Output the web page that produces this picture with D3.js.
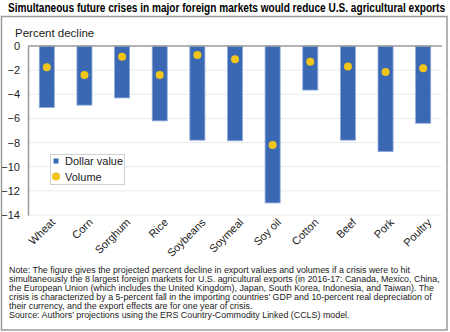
<!DOCTYPE html>
<meta charset="utf-8">
<style>
body { margin: 0; background: #fff; }
svg { font-family: "Liberation Sans", Arial, sans-serif; }
.grid line { stroke: #ebebeb; stroke-width: 1px; }
.tick text { font-size: 11px; fill: #222; }
</style>
<body>
<script src="https://cdnjs.cloudflare.com/ajax/libs/d3/7.8.5/d3.min.js"></script>
<script>
var width = 450,
    height = 332;

var categories = ["Wheat", "Corn", "Sorghum", "Rice", "Soybeans", "Soymeal", "Soy oil", "Cotton", "Beef", "Pork", "Poultry"];
var dollarValue = [-5.1, -4.9, -4.3, -6.2, -7.8, -7.85, -13.0, -3.65, -7.8, -8.75, -6.4];
var volume = [-1.75, -2.4, -0.9, -2.4, -0.75, -1.1, -8.2, -1.3, -1.7, -2.15, -1.85];
var yTicks = [0, -2, -4, -6, -8, -10, -12, -14];
var noteLines = [
  "Note: The figure gives the projected percent decline in export values and volumes if a crisis were to hit",
  "simultaneously the 8 largest foreign markets for U.S. agricultural exports (in 2016-17: Canada, Mexico, China,",
  "the European Union (which includes the United Kingdom), Japan, South Korea, Indonesia, and Taiwan). The",
  "crisis is characterized by a 5-percent fall in the importing countries\u2019 GDP and 10-percent real depreciation of",
  "their currency, and the export effects are for one year of crisis."
];
var sourceLine = "Source: Authors\u2019 projections using the ERS Country-Commodity Linked (CCLS) model.";

var svg = d3.select("body").append("svg")
    .attr("width", width)
    .attr("height", height);

// outer frame
svg.append("rect")
    .attr("x", 1.5).attr("y", 16.5)
    .attr("width", 445.5).attr("height", 313.5)
    .attr("fill", "none").attr("stroke", "#9a9a9a").attr("stroke-width", 1.5);

// title: set small and scaled up so it fits the 437px line
svg.append("text")
    .attr("transform", "translate(8,12) scale(1.2)")
    .attr("textLength", 437 / 1.2).attr("lengthAdjust", "spacingAndGlyphs")
    .style("font-family", "'Liberation Sans Narrow', 'Liberation Sans', sans-serif")
    .style("font-size", "10px").style("font-weight", "bold")
    .text("Simultaneous future crises in major foreign markets would reduce U.S. agricultural exports");

svg.append("text")
    .attr("x", 15).attr("y", 37)
    .style("font-size", "11.5px").attr("fill", "#222")
    .text("Percent decline");

var x = d3.scaleBand()
    .domain(categories)
    .range([28, 442])
    .paddingInner(0.6)
    .paddingOuter(0.3);

var y = d3.scaleLinear()
    .domain([-14, 0])
    .range([215, 46]);

// gridlines
svg.append("g").attr("class", "grid")
  .selectAll("line")
  .data(yTicks.filter(function(d) { return d !== 0; }))
  .enter().append("line")
    .attr("x1", 28).attr("x2", 442)
    .attr("y1", function(d) { return y(d); })
    .attr("y2", function(d) { return y(d); });

var yAxis = svg.append("g")
    .attr("transform", "translate(28,0)")
    .call(d3.axisLeft(y).tickValues(yTicks).tickSize(0).tickPadding(8));
yAxis.select(".domain").attr("stroke", "#9a9a9a").attr("stroke-width", 1.5);

// bars
svg.append("g")
  .selectAll("rect")
  .data(dollarValue)
  .enter().append("rect")
    .attr("x", function(d, i) { return x(categories[i]); })
    .attr("y", y(0))
    .attr("width", x.bandwidth())
    .attr("height", function(d) { return y(d) - y(0); })
    .attr("fill", "#3b68b2")
    .attr("stroke", "#8eaadb")
    .attr("stroke-width", 0.8);

// zero line
svg.append("line")
    .attr("x1", 28).attr("x2", 442)
    .attr("y1", y(0)).attr("y2", y(0))
    .attr("stroke", "#9a9a9a").attr("stroke-width", 1.5);

// volume dots
svg.append("g")
  .selectAll("circle")
  .data(volume)
  .enter().append("circle")
    .attr("cx", function(d, i) { return x(categories[i]) + x.bandwidth() / 2; })
    .attr("cy", function(d) { return y(d); })
    .attr("r", 4)
    .attr("fill", "#f0c419");

// category labels
svg.append("g")
  .selectAll("text")
  .data(categories)
  .enter().append("text")
    .attr("transform", function(d) {
      return "translate(" + (x(d) + x.bandwidth() / 2 + 9) + ",223) rotate(-45)";
    })
    .attr("text-anchor", "end")
    .style("font-size", "11px").attr("fill", "#222")
    .text(function(d) { return d; });

// legend
var lg = svg.append("g");
lg.append("rect")
    .attr("x", 50.5).attr("y", 154.5).attr("width", 74).attr("height", 30)
    .attr("fill", "#fff").attr("stroke", "#cfcfcf");
lg.append("rect")
    .attr("x", 53.5).attr("y", 158.5).attr("width", 5).attr("height", 5)
    .attr("fill", "#3b68b2");
lg.append("text").attr("x", 65).attr("y", 165)
    .style("font-size", "11px").attr("fill", "#222").text("Dollar value");
lg.append("circle").attr("cx", 56).attr("cy", 176.5).attr("r", 4).attr("fill", "#f0c419");
lg.append("text").attr("x", 65).attr("y", 180.5)
    .style("font-size", "11px").attr("fill", "#222").text("Volume");

// notes
svg.append("g")
  .selectAll("text")
  .data(noteLines)
  .enter().append("text")
    .attr("x", 9)
    .attr("y", function(d, i) { return 273 + i * 9; })
    .style("font-size", "8.9px").attr("fill", "#222")
    .text(function(d) { return d; });

svg.append("text")
    .attr("x", 9).attr("y", 318)
    .style("font-size", "8.9px").attr("fill", "#222")
    .text(sourceLine);
</script>
</body>
